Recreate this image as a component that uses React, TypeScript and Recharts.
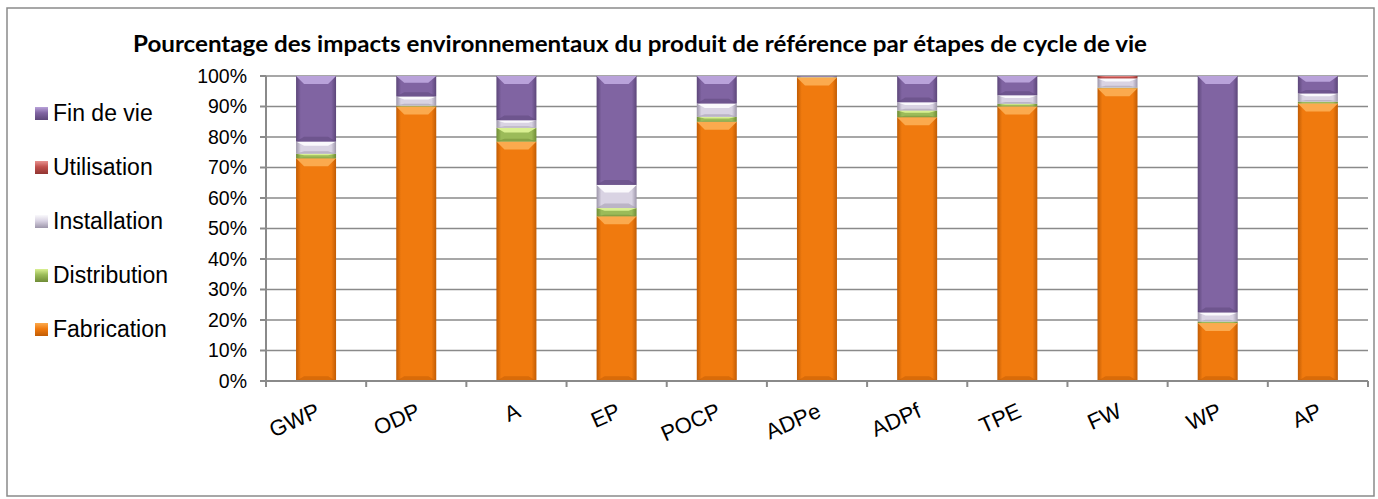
import React from "react";
import {
  BarChart,
  Bar,
  XAxis,
  YAxis,
  CartesianGrid,
} from "recharts";

const categories = ["GWP", "ODP", "A", "EP", "POCP", "ADPe", "ADPf", "TPE", "FW", "WP", "AP"];
const fabrication = [73, 90, 78.5, 54, 85, 99.5, 86.5, 90, 96, 19, 91];
const distribution = [1.5, 0.3, 4.5, 2.7, 1.6, 0.1, 2.2, 0.9, 0.2, 0.5, 0.6];
const installation = [4, 3, 2.5, 7.6, 4.4, 0.2, 2.7, 2.8, 3, 3, 2.7];
const utilisation = [0, 0, 0, 0, 0, 0, 0, 0, 0.8, 0, 0];
const finDeVie = [21.5, 6.7, 14.5, 35.7, 9, 0.2, 8.6, 6.3, 0, 77.5, 5.7];
const yTicks = [0, 10, 20, 30, 40, 50, 60, 70, 80, 90, 100];

const title =
  "Pourcentage des impacts environnementaux du produit de référence par étapes de cycle de vie";

type Serie = {
  key: string;
  name: string;
  base: string;
  light: string;
  dark: string;
};

// bottom to top
const series: Serie[] = [
  { key: "fabrication", name: "Fabrication", base: "#F07A0E", light: "#FBAA4E", dark: "#C15C04" },
  { key: "distribution", name: "Distribution", base: "#9BBB59", light: "#D9F092", dark: "#6F8C36" },
  { key: "installation", name: "Installation", base: "#D9D3E3", light: "#FAF9FC", dark: "#9D96AA" },
  { key: "utilisation", name: "Utilisation", base: "#C0504D", light: "#E8928F", dark: "#913532" },
  { key: "finDeVie", name: "Fin de vie", base: "#8064A2", light: "#B9A2DA", dark: "#5C4679" },
];

const data = categories.map((c, i) => ({
  name: c,
  fabrication: fabrication[i],
  distribution: distribution[i],
  installation: installation[i],
  utilisation: utilisation[i],
  finDeVie: finDeVie[i],
}));

const W = 1378;
const H = 499;
const GRAY = "#8a8a8a";
const FONT = "'Liberation Sans', Arial, sans-serif";

const BevelBar = (props: any) => {
  const { x, y, width, height, serie } = props;
  if (!height || height <= 0) return null;
  const d = Math.min(8, height / 3);
  const inset = Math.min(8, width / 5);
  return (
    <g>
      <rect x={x} y={y} width={width} height={height} fill={`url(#grad-${serie.key})`} />
      {height > 2 && (
        <polygon
          points={`${x},${y} ${x + width},${y} ${x + width - inset},${y + d} ${x + inset},${y + d}`}
          fill={serie.light}
        />
      )}
      {height > 4 && (
        <polygon
          points={`${x},${y + height} ${x + width},${y + height} ${x + width - inset},${y + height - d * 0.6} ${x + inset},${y + height - d * 0.6}`}
          fill={serie.dark}
          opacity={0.5}
        />
      )}
    </g>
  );
};

const XTick = (props: any) => {
  const { x, y, payload, index } = props;
  const half = payload && payload.offset ? payload.offset : 50;
  const axisY = y - 20;
  const tx = x - 1;
  const ty = y + 1;
  return (
    <g>
      <line x1={x - half} x2={x - half} y1={axisY} y2={axisY + 6} stroke={GRAY} strokeWidth={2} />
      {index === categories.length - 1 && (
        <line x1={x + half} x2={x + half} y1={axisY} y2={axisY + 6} stroke={GRAY} strokeWidth={2} />
      )}
      <text
        x={tx}
        y={ty}
        dy="0.71em"
        textAnchor="end"
        transform={`rotate(-24, ${tx}, ${ty})`}
        fontFamily={FONT}
        fontSize={22}
        fill="#000"
      >
        {payload.value}
      </text>
    </g>
  );
};

const legendOrder = [...series].reverse();

export default function App() {
  return (
    <div style={{ position: "relative", width: W, height: H, background: "#fff" }}>
      <style>{`body{margin:0}`}</style>
      <svg width={W} height={H} style={{ position: "absolute", left: 0, top: 0 }}>
        <rect x={7} y={8} width={1367} height={488} fill="#fff" stroke={GRAY} strokeWidth={1.5} />
        <text
          x={640}
          y={52}
          textAnchor="middle"
          fontFamily="Lato, 'Open Sans', sans-serif"
          fontWeight="bold"
          fontSize={23}
          textLength={1014}
          lengthAdjust="spacingAndGlyphs"
          fill="#000"
        >
          {title}
        </text>
      </svg>
      <div style={{ position: "absolute", left: 0, top: 0 }}>
        <BarChart
          width={W}
          height={H}
          data={data}
          margin={{ top: 76, right: 10, left: 186, bottom: 78 }}
          barCategoryGap="30%"
        >
          <defs>
            {series.map((s) => (
              <linearGradient key={s.key} id={`grad-${s.key}`} x1="0" y1="0" x2="1" y2="0">
                <stop offset="0%" stopColor={s.dark} />
                <stop offset="12%" stopColor={s.base} />
                <stop offset="50%" stopColor={s.base} />
                <stop offset="88%" stopColor={s.base} />
                <stop offset="100%" stopColor={s.dark} />
              </linearGradient>
            ))}
          </defs>
          <CartesianGrid vertical={false} stroke={GRAY} strokeWidth={1.5} />
          <XAxis
            dataKey="name"
            height={40}
            interval={0}
            tickSize={0}
            tickMargin={20}
            tickLine={false}
            axisLine={{ stroke: GRAY, strokeWidth: 2 }}
            tick={<XTick />}
          />
          <YAxis
            width={80}
            domain={[0, 100]}
            ticks={yTicks}
            interval={0}
            tickFormatter={(v: number) => `${v}%`}
            tickSize={6}
            tickMargin={13}
            tickLine={{ stroke: GRAY, strokeWidth: 2 }}
            axisLine={{ stroke: GRAY, strokeWidth: 2 }}
            tick={{ fill: "#000", fontSize: 19.5, fontFamily: FONT }}
          />
          {series.map((s) => (
            <Bar
              key={s.key}
              dataKey={s.key}
              name={s.name}
              stackId="a"
              fill={s.base}
              isAnimationActive={false}
              shape={(p: any) => <BevelBar {...p} serie={s} />}
            />
          ))}
        </BarChart>
      </div>
      <div style={{ position: "absolute", left: 35, top: 86, fontFamily: FONT, fontSize: 23 }}>
        {legendOrder.map((s) => (
          <div key={s.key} style={{ height: 54, display: "flex", alignItems: "center" }}>
            <span
              style={{
                display: "inline-block",
                width: 13,
                height: 13,
                background: `linear-gradient(180deg, ${s.light} 0%, ${s.base} 45%, ${s.dark} 100%)`,
                marginRight: 5,
              }}
            />
            <span>{s.name}</span>
          </div>
        ))}
      </div>
    </div>
  );
}
